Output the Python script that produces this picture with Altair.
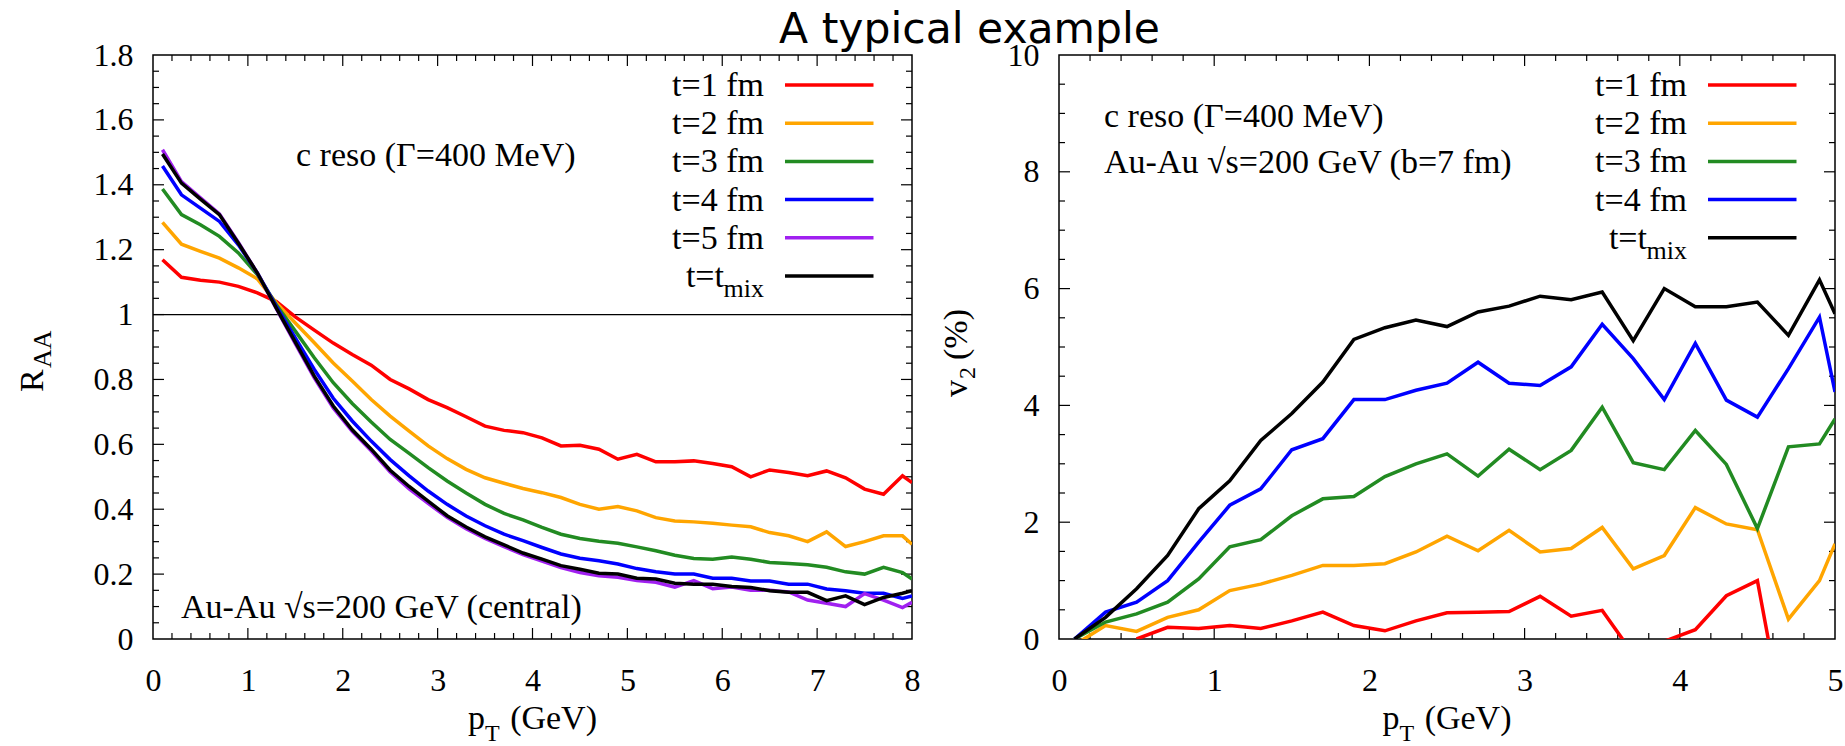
import altair as alt
import pandas as pd

SERIF = "Liberation Serif, Times New Roman, Times, DejaVu Serif, serif"
SANS = "DejaVu Sans"

# ---------------- left panel: R_AA vs pT ----------------
raa_pt = [0.1, 0.3, 0.5, 0.7, 0.9, 1.1, 1.3, 1.5, 1.7, 1.9, 2.1, 2.3, 2.5, 2.7, 2.9,
          3.1, 3.3, 3.5, 3.7, 3.9, 4.1, 4.3, 4.5, 4.7, 4.9, 5.1, 5.3, 5.5, 5.7, 5.9,
          6.1, 6.3, 6.5, 6.7, 6.9, 7.1, 7.3, 7.5, 7.7, 7.9, 8.0]
raa_t1 = [1.169, 1.115, 1.106, 1.100, 1.087, 1.067, 1.040, 0.993, 0.952, 0.912, 0.877, 0.844,
          0.800, 0.771, 0.738, 0.713, 0.685, 0.656, 0.643, 0.636, 0.620, 0.595, 0.597, 0.585,
          0.554, 0.569, 0.546, 0.546, 0.549, 0.541, 0.531, 0.500, 0.521, 0.513, 0.503, 0.518,
          0.497, 0.462, 0.446, 0.503, 0.482]
raa_t2 = [1.284, 1.217, 1.195, 1.174, 1.144, 1.110, 1.036, 0.974, 0.913, 0.851, 0.795, 0.738,
          0.687, 0.641, 0.595, 0.556, 0.523, 0.497, 0.480, 0.464, 0.451, 0.436, 0.415, 0.400,
          0.408, 0.395, 0.374, 0.364, 0.361, 0.357, 0.351, 0.346, 0.328, 0.318, 0.300, 0.330,
          0.285, 0.300, 0.318, 0.318, 0.292]
raa_t3 = [1.387, 1.308, 1.277, 1.241, 1.190, 1.123, 1.030, 0.949, 0.867, 0.790, 0.726, 0.669,
          0.615, 0.572, 0.528, 0.487, 0.450, 0.415, 0.387, 0.367, 0.344, 0.323, 0.310, 0.301,
          0.295, 0.284, 0.272, 0.258, 0.248, 0.246, 0.253, 0.246, 0.236, 0.233, 0.229, 0.221,
          0.207, 0.200, 0.221, 0.205, 0.185]
raa_t4 = [1.458, 1.369, 1.328, 1.287, 1.215, 1.128, 1.025, 0.928, 0.831, 0.742, 0.672, 0.610,
          0.553, 0.503, 0.456, 0.415, 0.379, 0.349, 0.323, 0.303, 0.282, 0.262, 0.249, 0.241,
          0.231, 0.217, 0.207, 0.200, 0.200, 0.187, 0.187, 0.179, 0.179, 0.169, 0.169, 0.154,
          0.149, 0.141, 0.141, 0.125, 0.133]
raa_t5 = [1.508, 1.410, 1.360, 1.310, 1.222, 1.128, 1.018, 0.910, 0.805, 0.712, 0.640, 0.580,
          0.515, 0.463, 0.418, 0.375, 0.340, 0.310, 0.285, 0.260, 0.240, 0.220, 0.205, 0.195,
          0.190, 0.180, 0.175, 0.160, 0.180, 0.155, 0.160, 0.150, 0.150, 0.145, 0.120, 0.110,
          0.100, 0.140, 0.120, 0.097, 0.113]
raa_mix = [1.495, 1.405, 1.356, 1.308, 1.220, 1.128, 1.020, 0.915, 0.810, 0.718, 0.645, 0.585,
           0.520, 0.470, 0.425, 0.380, 0.345, 0.315, 0.290, 0.265, 0.246, 0.226, 0.215, 0.203,
           0.200, 0.187, 0.185, 0.172, 0.169, 0.169, 0.162, 0.159, 0.149, 0.144, 0.144, 0.118,
           0.133, 0.106, 0.128, 0.141, 0.149]

# ---------------- right panel: v2 vs pT ----------------
v2_pt = [0.1, 0.3, 0.5, 0.7, 0.9, 1.1, 1.3, 1.5, 1.7, 1.9, 2.1, 2.3, 2.5, 2.7, 2.9,
         3.1, 3.3, 3.5, 3.7, 3.9, 4.1, 4.3, 4.5, 4.7, 4.9, 5.0]
v2_t1_pt = [0.5, 0.7, 0.9, 1.1, 1.3, 1.5, 1.7, 1.9, 2.1, 2.3, 2.5, 2.7, 2.9, 3.1, 3.3,
            3.5, 3.7, 3.9, 4.1, 4.3, 4.5, 4.7]
v2_t1 = [0.0, 0.20, 0.18, 0.23, 0.18, 0.31, 0.46, 0.23, 0.14, 0.31, 0.45, 0.46, 0.47, 0.73,
         0.39, 0.49, -0.26, -0.04, 0.16, 0.74, 1.00, -1.86]
v2_t2 = [-0.10, 0.23, 0.13, 0.37, 0.50, 0.83, 0.94, 1.09, 1.26, 1.26, 1.29, 1.49, 1.76, 1.51,
         1.86, 1.49, 1.55, 1.91, 1.20, 1.43, 2.25, 1.97, 1.87, 0.34, 1.00, 1.63]
v2_t3 = [0.0, 0.29, 0.43, 0.63, 1.03, 1.58, 1.70, 2.11, 2.40, 2.44, 2.78, 3.00, 3.17, 2.79,
         3.25, 2.90, 3.23, 3.97, 3.02, 2.90, 3.57, 2.99, 1.89, 3.29, 3.34, 3.77]
v2_t4 = [0.0, 0.46, 0.63, 1.00, 1.66, 2.29, 2.57, 3.24, 3.43, 4.10, 4.10, 4.26, 4.38, 4.74,
         4.38, 4.34, 4.66, 5.39, 4.80, 4.10, 5.06, 4.09, 3.80, 4.63, 5.51, 4.23]
v2_mix = [0.0, 0.37, 0.86, 1.43, 2.23, 2.71, 3.40, 3.86, 4.40, 5.13, 5.33, 5.46, 5.35, 5.60,
          5.70, 5.87, 5.81, 5.94, 5.11, 6.00, 5.69, 5.69, 5.77, 5.20, 6.15, 5.57]

# ---------------- tick labels ----------------
raa_xticks = [0, 1, 2, 3, 4, 5, 6, 7, 8]
raa_yticks = [0, 0.2, 0.4, 0.6, 0.8, 1.0, 1.2, 1.4, 1.6, 1.8]
v2_xticks = [0, 1, 2, 3, 4, 5]
v2_yticks = [0, 2, 4, 6, 8, 10]

legend_left = [("t=1 fm", "#ff0000"), ("t=2 fm", "#ffa500"), ("t=3 fm", "#228b22"),
               ("t=4 fm", "#0000ff"), ("t=5 fm", "#a020f0"), ("t=t", "#000000")]
legend_right = [("t=1 fm", "#ff0000"), ("t=2 fm", "#ffa500"), ("t=3 fm", "#228b22"),
                ("t=4 fm", "#0000ff"), ("t=t", "#000000")]

LW, LH = 759, 584
RW, RH = 776, 584
ONE = pd.DataFrame({"k": [0]})


def make_xy(xdom, ydom, xvals, yvals):
    def X():
        return alt.X("x:Q", scale=alt.Scale(domain=xdom, nice=False, zero=False),
                     axis=alt.Axis(values=xvals, format="~r", title=None))

    def Y():
        return alt.Y("y:Q", scale=alt.Scale(domain=ydom, nice=False, zero=False),
                     axis=alt.Axis(values=yvals, format="~r", title=None))
    return X, Y


def text(t, x, y, size=34, align="left", angle=0, font=SERIF):
    kw = dict(text=t, font=font, fontSize=size, align=align, baseline="alphabetic",
              color="black")
    if angle:
        kw["angle"] = angle
    return alt.Chart(ONE).mark_text(**kw).encode(x=alt.value(x), y=alt.value(y))


def ticks(W, H, X, Y, xmaj, xmin, ymaj, ymin):
    layers = []
    for vals, L in [(xmaj, 11), (xmin, 6)]:
        d = pd.DataFrame({"x": vals})
        layers.append(alt.Chart(d).mark_rule(color="black", strokeWidth=1.2).encode(
            x=X(), y=alt.value(H), y2=alt.value(H - L)))
        layers.append(alt.Chart(d).mark_rule(color="black", strokeWidth=1.2).encode(
            x=X(), y=alt.value(0), y2=alt.value(L)))
    for vals, L in [(ymaj, 11), (ymin, 6)]:
        d = pd.DataFrame({"y": vals})
        layers.append(alt.Chart(d).mark_rule(color="black", strokeWidth=1.2).encode(
            y=Y(), x=alt.value(0), x2=alt.value(L)))
        layers.append(alt.Chart(d).mark_rule(color="black", strokeWidth=1.2).encode(
            y=Y(), x=alt.value(W), x2=alt.value(W - L)))
    return layers


def series(xs, ys, color, X, Y):
    d = pd.DataFrame({"x": xs, "y": ys})
    return alt.Chart(d).mark_line(color=color, strokeWidth=3.5, clip=True).encode(x=X(), y=Y())


def legend(W, entries):
    layers = []
    for i, (lab, col) in enumerate(entries):
        ry = 30 + 38.2 * i
        layers.append(alt.Chart(ONE).mark_rule(color=col, strokeWidth=3.5).encode(
            x=alt.value(W - 127), x2=alt.value(W - 38.5), y=alt.value(ry)))
        if lab == "t=t":
            layers.append(text("t=t", W - 188, ry + 11, align="right"))
            layers.append(text("mix", W - 148, ry + 21, size=26, align="right"))
        else:
            layers.append(text(lab, W - 148, ry + 11, align="right"))
    return layers


def xtitle(W, H):
    c = W / 2
    return [text("p", c - 64.5, H + 90), text("T", c - 47.5, H + 102, size=24),
            text("(GeV)", c + 64.5, H + 90, align="right")]


# ---------- left ----------
XL, YL = make_xy([0, 8], [0, 1.8], raa_xticks, raa_yticks)
l_xmaj = [1, 2, 3, 4, 5, 6, 7]
l_xmin = [round(i * 0.2, 1) for i in range(1, 40) if i % 5 != 0]
l_ymaj = [0.2, 0.4, 0.6, 0.8, 1.0, 1.2, 1.4, 1.6]
l_ymin = [round(i * 0.05, 2) for i in range(1, 36) if i % 4 != 0]

left_layers = ticks(LW, LH, XL, YL, l_xmaj, l_xmin, l_ymaj, l_ymin)
left_layers.append(alt.Chart(pd.DataFrame({"y": [1.0]})).mark_rule(
    color="black", strokeWidth=1.3).encode(y=YL()))
for ys, (lab, col) in zip([raa_t1, raa_t2, raa_t3, raa_t4, raa_t5, raa_mix], legend_left):
    left_layers.append(series(raa_pt, ys, col, XL, YL))
left_layers += legend(LW, legend_left)
left_layers.append(text("c reso (Γ=400 MeV)", 143, 111))
left_layers.append(text("Au-Au √s=200 GeV (central)", 28, 563))
left_layers += xtitle(LW, LH)
left_layers.append(text("R", -110, 337, angle=270))
left_layers.append(text("AA", -102, 313, size=26, angle=270))

left = alt.layer(*left_layers).properties(width=LW, height=LH)

# ---------- right ----------
XR, YR = make_xy([0, 5], [0, 10], v2_xticks, v2_yticks)
r_xmaj = [1, 2, 3, 4]
r_xmin = [round(i * 0.2, 1) for i in range(1, 25) if i % 5 != 0]
r_ymaj = [2, 4, 6, 8]
r_ymin = [i * 0.5 for i in range(1, 20) if i % 4 != 0]

right_layers = ticks(RW, RH, XR, YR, r_xmaj, r_xmin, r_ymaj, r_ymin)
right_layers.append(series(v2_t1_pt, v2_t1, "#ff0000", XR, YR))
for ys, (lab, col) in zip([v2_t2, v2_t3, v2_t4, v2_mix], legend_right[1:]):
    right_layers.append(series(v2_pt, ys, col, XR, YR))
right_layers += legend(RW, legend_right)
right_layers.append(text("c reso (Γ=400 MeV)", 45, 72))
right_layers.append(text("Au-Au √s=200 GeV (b=7 fm)", 45, 118))
right_layers += xtitle(RW, RH)
right_layers.append(text("v", -92, 342, angle=270))
right_layers.append(text("2", -84, 324, size=24, angle=270))
right_layers.append(text("(%)", -92, 305, angle=270))

right = alt.layer(*right_layers).properties(width=RW, height=RH)

chart = alt.hconcat(left, right, spacing=18).properties(
    title=alt.TitleParams("A typical example", font=SANS, fontSize=42.5, fontWeight="normal",
                          color="black", anchor="middle", dx=40, offset=-13),
    padding={"left": 15, "top": 8, "right": 0, "bottom": 0},
    background="white",
).configure_view(stroke="black", strokeWidth=1.5).configure_axis(
    domain=False, ticks=False, tickSize=0, grid=False, labelFont=SERIF, labelFontSize=32,
    labelColor="black", labelOverlap=False, labelFlush=False,
).configure_axisX(labelPadding=26).configure_axisY(labelPadding=20)

chart.save("out.html", embed_options={"renderer": "svg", "actions": False})
